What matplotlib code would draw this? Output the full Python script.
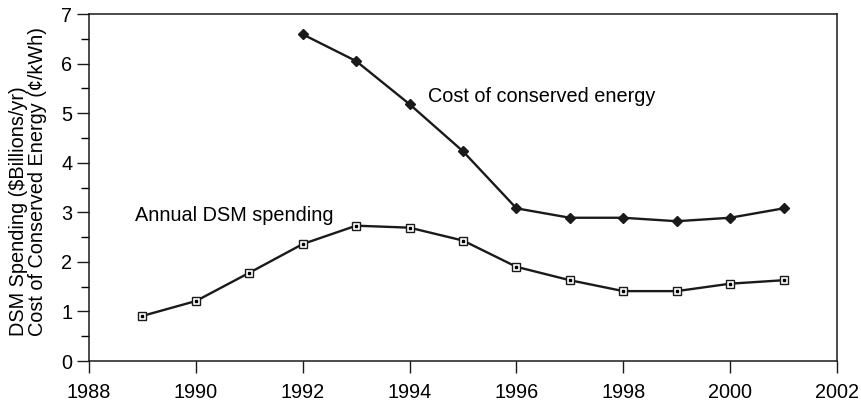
import matplotlib
matplotlib.use("Agg")
import matplotlib.pyplot as plt
from matplotlib.ticker import MultipleLocator

plt.rcParams['font.family'] = ['Liberation Sans', 'DejaVu Sans']

years_cost = [1992, 1993, 1994, 1995, 1996, 1997, 1998, 1999, 2000, 2001]
cost_conserved = [6.59, 6.05, 5.18, 4.23, 3.08, 2.89, 2.89, 2.82, 2.89, 3.08]

years_dsm = [1989, 1990, 1991, 1992, 1993, 1994, 1995, 1996, 1997, 1998, 1999, 2000, 2001]
dsm_spending = [0.91, 1.21, 1.78, 2.36, 2.73, 2.69, 2.43, 1.90, 1.63, 1.41, 1.41, 1.56, 1.63]

fig = plt.figure(figsize=(8.62, 4.04), dpi=100)
ax = fig.add_axes([0.1033, 0.1064, 0.8677, 0.8589])

ax.plot(years_cost, cost_conserved, color='#1a1a1a', lw=1.7, marker='D',
        markersize=5, markerfacecolor='#1a1a1a', markeredgecolor='#1a1a1a', zorder=3)
ax.plot(years_dsm, dsm_spending, color='#1a1a1a', lw=1.7, marker='s',
        markersize=6, markerfacecolor='white', markeredgecolor='#1a1a1a',
        markeredgewidth=1.0, zorder=3)
ax.plot(years_dsm, dsm_spending, linestyle='none', marker='s', markersize=1.5,
        markerfacecolor='black', markeredgecolor='black', zorder=4)

ax.set_xlim(1988, 2002)
ax.set_ylim(0, 7)
ax.xaxis.set_major_locator(MultipleLocator(2))
ax.yaxis.set_major_locator(MultipleLocator(1))
ax.yaxis.set_minor_locator(MultipleLocator(0.5))
ax.tick_params(axis='both', which='major', labelsize=14.3, direction='out',
               length=8.5, width=1.0, color='#1a1a1a')
ax.tick_params(axis='x', which='major', pad=7.5)
ax.tick_params(axis='y', which='major', pad=3.5)
ax.tick_params(axis='y', which='minor', direction='out', length=5.5, width=1.0)
for s in ax.spines.values():
    s.set_linewidth(1.1)
    s.set_color('#1a1a1a')

ax.text(1994.34, 5.33, 'Cost of conserved energy', fontsize=14.3, va='center', ha='left')
ax.text(1988.86, 2.94, 'Annual DSM spending', fontsize=14.3, va='center', ha='left')

fig.text(0.032, 0.551, 'DSM Spending ($Billions/yr)\nCost of Conserved Energy (¢/kWh)',
         rotation=90, fontsize=14.3, ha='center', va='center', multialignment='left',
         linespacing=1.0)

fig.savefig('out.png', dpi=100)
